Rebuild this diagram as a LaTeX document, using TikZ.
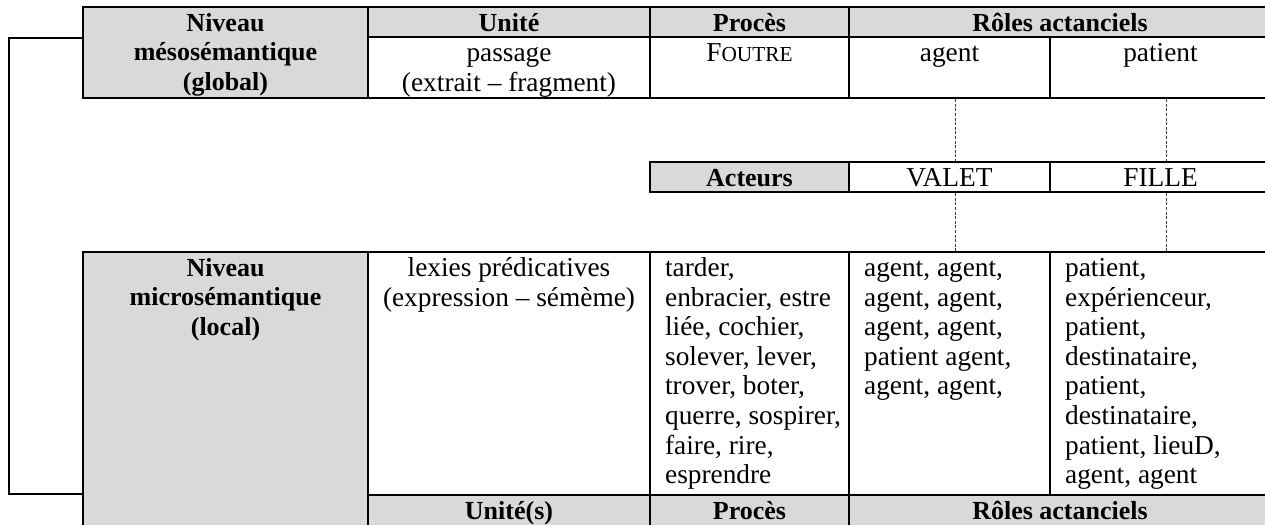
\documentclass[tikz,border=0pt]{standalone}
\usepackage{fontspec}
\setmainfont{Liberation Serif}
\usetikzlibrary{fit}
\definecolor{hdr}{HTML}{D9D9D9}
\newcommand{\smcap}[1]{{\fontsize{16}{22}\selectfont #1}}
\newcommand{\topstrut}{\rule{0pt}{17pt}}

\begin{document}
\begin{tikzpicture}[x=0.75pt,y=-0.75pt,
    every node/.style={font=\fontsize{20.5}{22.2}\selectfont},
    cell/.style={draw,line width=1.7pt,inner sep=0pt},
    head/.style={cell,fill=hdr},
    txt/.style={anchor=north,align=center,inner xsep=0pt,inner ysep=2pt},
    bold/.style={txt,font=\fontsize{19.5}{22}\selectfont\bfseries},
    lst/.style={anchor=north west,align=left,inner xsep=12pt,inner ysep=2pt},
    link/.style={dash pattern=on 2.25pt off 1.2pt,line width=0.6pt,black!75}]
    \useasboundingbox (0,0) rectangle (1265,525);
    \clip (0,0) rectangle (1265,525);
    \node[head,fit={(83,7) (368,98)}] (meso) {};
    \node[head,fit={(368,7) (650,37)}] (uniteH) {};
    \node[head,fit={(650,7) (849,37)}] (procesH) {};
    \node[head,fit={(849,7) (1271,37)}] (rolesH) {};
    \node[cell,fit={(368,37) (650,98)}] (unite) {};
    \node[cell,fit={(650,37) (849,98)}] (proces) {};
    \node[cell,fit={(849,37) (1050,98)}] (agentT) {};
    \node[cell,fit={(1050,37) (1271,98)}] (patientT) {};
    \node[head,fit={(650,162) (849,192)}] (acteurs) {};
    \node[cell,fit={(849,162) (1050,192)}] (valet) {};
    \node[cell,fit={(1050,162) (1271,192)}] (fille) {};
    \node[head,fit={(83,252) (368,528)}] (micro) {};
    \node[head,fit={(368,495) (650,528)}] (unitesB) {};
    \node[head,fit={(650,495) (849,528)}] (procesB) {};
    \node[head,fit={(849,495) (1271,528)}] (rolesB) {};
    \node[cell,fit={(368,252) (650,495)}] (lexies) {};
    \node[cell,fit={(650,252) (849,495)}] (procesL) {};
    \node[cell,fit={(849,252) (1050,495)}] (agentL) {};
    \node[cell,fit={(1050,252) (1271,495)}] (patientL) {};
    \node[bold] (tMeso) at (meso.north) {\topstrut Niveau\\mésosémantique\\(global)};
    \node[bold] (tUniteH) at (uniteH.north) {\topstrut Unité};
    \node[bold] (tProcesH) at (procesH.north) {\topstrut Procès};
    \node[bold] (tRolesH) at (rolesH.north) {\topstrut Rôles actanciels};
    \node[txt] (tUnite) at (unite.north) {\topstrut passage\\(extrait – fragment)};
    \node[txt] (tProces) at (proces.north) {\topstrut F\smcap{OUTRE}};
    \node[txt] (tAgentT) at (agentT.north) {\topstrut agent};
    \node[txt] (tPatientT) at (patientT.north) {\topstrut patient};
    \node[bold] (tActeurs) at (acteurs.north) {\topstrut Acteurs};
    \node[txt] (tValet) at (valet.north) {\topstrut VALET};
    \node[txt] (tFille) at (fille.north) {\topstrut FILLE};
    \node[bold] (tMicro) at (micro.north) {\topstrut Niveau\\microsémantique\\(local)};
    \node[txt] (tLexies) at (lexies.north) {\topstrut lexies prédicatives\\(expression – sémème)};
    \node[lst] (tProcesL) at (procesL.north west) {\topstrut tarder,\\enbracier, estre\\liée, cochier,\\solever, lever,\\trover, boter,\\querre, sospirer,\\faire, rire,\\esprendre};
    \node[lst] (tAgentL) at (agentL.north west) {\topstrut agent, agent,\\agent, agent,\\agent, agent,\\patient agent,\\agent, agent,};
    \node[lst] (tPatientL) at (patientL.north west) {\topstrut patient,\\expérienceur,\\patient,\\destinataire,\\patient,\\destinataire,\\patient, lieuD,\\agent, agent};
    \node[bold] (tUnitesB) at (unitesB.north) {\topstrut Unité(s)};
    \node[bold] (tProcesB) at (procesB.north) {\topstrut Procès};
    \node[bold] (tRolesB) at (rolesB.north) {\topstrut Rôles actanciels};
    \draw[link] ([xshift=4.5]agentT.south) -- ([xshift=4.5]valet.north);
    \draw[link] ([xshift=4.5]patientT.south) -- ([xshift=4.5]fille.north);
    \draw[link] ([xshift=4.5]valet.south) -- ([xshift=4.5]agentL.north);
    \draw[link] ([xshift=4.5]fille.south) -- ([xshift=4.5]patientL.north);
    \coordinate (brk) at (9,0);
    \draw[line width=1.7pt] (meso.west |- uniteH.south) -- (brk |- uniteH.south)
      -- (brk |- unitesB.north) -- (micro.west |- unitesB.north);
\end{tikzpicture}
\end{document}
